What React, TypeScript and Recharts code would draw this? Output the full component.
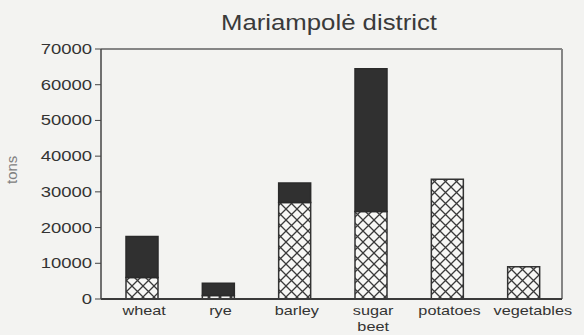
import React from "react";
import { BarChart, Bar, XAxis, YAxis, CartesianGrid } from "recharts";

const crops = ["wheat", "rye", "barley", "sugar beet", "potatoes", "vegetables"];
const hatchedPart = [6000, 1000, 27000, 24500, 33500, 9000];
const darkPart = [11500, 3400, 5500, 40000, 0, 0];
const yTicks = [0, 10000, 20000, 30000, 40000, 50000, 60000, 70000];

const data = crops.map((crop, i) => ({
    crop,
    hatched: hatchedPart[i],
    dark: darkPart[i],
}));

const font = "'Liberation Sans', Arial, sans-serif";
const stretch = 1.25;

// category labels, multi-word names go on separate lines
const CropTick = (props: any) => {
    const { x, y, payload, index } = props;
    const words = String(payload.value).split(" ");
    // the last label hangs a bit past its bar, toward the right edge
    const nudge = index === crops.length - 1 ? 9 : 2;
    return (
        <g transform={`translate(${x + nudge},${y + 8}) scale(${stretch},1)`}>
            <text x={0} y={0} textAnchor="middle" fill="#333" fontSize={13} fontFamily={font}>
                {words.map((w, i) => (
                    <tspan key={i} x={0} dy={i === 0 ? 0 : 16}>
                        {w}
                    </tspan>
                ))}
            </text>
        </g>
    );
};

const ValueTick = (props: any) => {
    const { x, y, payload } = props;
    return (
        <g transform={`translate(${x},${y + 5}) scale(1.32,1)`}>
            <text x={0} y={0} textAnchor="end" fill="#333" fontSize={14} fontFamily={font}>
                {payload.value}
            </text>
        </g>
    );
};

const App: React.FC = () => {
    return (
        <div
            style={{
                position: "absolute",
                left: 0,
                top: 0,
                width: 584,
                height: 335,
                background: "#f3f3f1",
                fontFamily: font,
            }}
        >
            <div
                style={{
                    position: "absolute",
                    left: 229,
                    width: 200,
                    top: 10,
                    textAlign: "center",
                    fontSize: 22,
                    color: "#3a3a3a",
                    whiteSpace: "nowrap",
                    transform: "scaleX(1.17)",
                }}
            >
                Mariampolė district
            </div>
            <BarChart
                width={584}
                height={335}
                data={data}
                margin={{ top: 49, right: 22, bottom: 0, left: 0 }}
            >
                <defs>
                    <pattern id="crosshatch" width="11" height="11" patternUnits="userSpaceOnUse">
                        <rect width="11" height="11" fill="#f7f7f5" />
                        <path d="M0,0 L11,11 M11,0 L0,11" stroke="#3a3a3a" strokeWidth={1.3} />
                    </pattern>
                </defs>
                {/* box outline: top edge and right edge of the plot */}
                <CartesianGrid
                    stroke="#858585"
                    strokeWidth={2}
                    horizontalCoordinatesGenerator={({ offset }: any) => [offset.top]}
                    verticalCoordinatesGenerator={({ offset }: any) => [offset.left + offset.width]}
                />
                <XAxis
                    dataKey="crop"
                    height={36}
                    interval={0}
                    padding={{ left: 3, right: 0 }}
                    tick={<CropTick />}
                    tickLine={false}
                    axisLine={{ stroke: "#3a3a3a", strokeWidth: 2 }}
                />
                <YAxis
                    width={101}
                    domain={[0, 70000]}
                    ticks={yTicks}
                    interval={0}
                    tickSize={6}
                    tickMargin={3}
                    tick={<ValueTick />}
                    tickLine={{ stroke: "#444" }}
                    axisLine={{ stroke: "#444", strokeWidth: 1.5 }}
                    label={{
                        value: "tons",
                        angle: -90,
                        position: "insideLeft",
                        offset: 12,
                        dy: 10,
                        fill: "#808080",
                        fontSize: 15,
                        fontFamily: font,
                    }}
                />
                <Bar
                    dataKey="hatched"
                    stackId="a"
                    fill="url(#crosshatch)"
                    stroke="#333"
                    strokeWidth={1.5}
                    barSize={32}
                    isAnimationActive={false}
                />
                <Bar
                    dataKey="dark"
                    stackId="a"
                    fill="#303030"
                    stroke="#2a2a2a"
                    strokeWidth={1.5}
                    barSize={32}
                    isAnimationActive={false}
                />
            </BarChart>
        </div>
    );
};

export default App;
